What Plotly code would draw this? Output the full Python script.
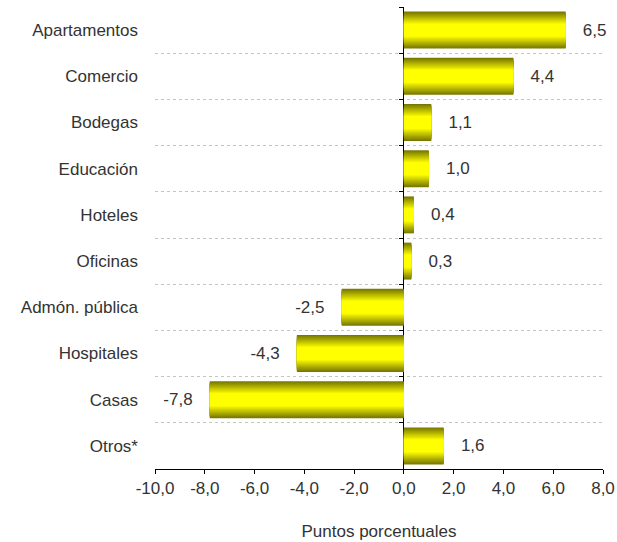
import plotly.graph_objects as go

categorias = ["Apartamentos", "Comercio", "Bodegas", "Educación", "Hoteles",
              "Oficinas", "Admón. pública", "Hospitales", "Casas", "Otros*"]
valores = [6.5, 4.4, 1.1, 1.0, 0.4, 0.3, -2.5, -4.3, -7.8, 1.6]
x_ticks = [-10, -8, -6, -4, -2, 0, 2, 4, 6, 8]
x_ticktext = ["-10,0", "-8,0", "-6,0", "-4,0", "-2,0", "0,0", "2,0", "4,0", "6,0", "8,0"]

pos = list(range(len(categorias)))
bordes = [p - 0.5 for p in pos] + [pos[-1] + 0.5]
pad = "\u00a0" * 3
etiquetas = [(pad + f"{v:.1f}" if v >= 0 else f"{v:.1f}" + pad).replace(".", ",")
             for v in valores]

FONT = "Liberation Sans, Arial, sans-serif"
TXT = "#333333"

fig = go.Figure()

# gradient look: overlay bars from olive edge to yellow core
capas = 14
for i in range(capas):
    t = i / (capas - 1)
    r = int(120 + (255 - 120) * t)
    fig.add_trace(go.Bar(
        x=valores, y=pos, orientation="h", width=0.8 - i * 0.04,
        marker=dict(color=f"rgb({r},{r},0)", line=dict(width=0)),
        text=etiquetas if i == 0 else None,
        textposition="outside" if i == 0 else "none",
        textfont=dict(family=FONT, size=17, color=TXT),
        cliponaxis=False, hoverinfo="skip", showlegend=False,
    ))

# helper traces so the extra axes are drawn
for ax in ["y2", "y3"]:
    fig.add_trace(go.Scatter(x=valores, y=pos, yaxis=ax, mode="markers",
                             marker=dict(opacity=0), hoverinfo="skip",
                             showlegend=False))

fig.update_layout(
    barmode="overlay",
    width=617, height=542,
    margin=dict(l=155, r=14, t=7, b=73),
    paper_bgcolor="white", plot_bgcolor="white",
    font=dict(family=FONT, size=17, color=TXT),
    xaxis=dict(
        range=[-10, 8], tickvals=x_ticks, ticktext=x_ticktext, automargin=False,
        showgrid=False, zeroline=True, zerolinecolor="black", zerolinewidth=1,
        showline=True, linecolor="black", linewidth=1,
        ticks="outside", ticklen=4, tickcolor="black",
        ticklabeloverflow="allow",
        tickfont=dict(size=17, color=TXT),
        title=dict(text="Puntos porcentuales", font=dict(size=17, color=TXT), standoff=27),
    ),
    yaxis=dict(
        range=[9.5, -0.5], tickvals=pos, ticktext=categorias, automargin=False,
        showgrid=False, zeroline=False, showline=False, ticks="",
        ticklabelstandoff=16, tickfont=dict(size=17, color=TXT),
    ),
    yaxis2=dict(
        overlaying="y", anchor="x", range=[9.5, -0.5], tickvals=bordes,
        automargin=False,
        showticklabels=False, ticks="", showgrid=True, gridcolor="#c4c4c4",
        griddash="dot", gridwidth=1, zeroline=False, showline=False,
    ),
    yaxis3=dict(
        overlaying="y", anchor="free", position=10 / 18, range=[9.5, -0.5],
        tickvals=bordes, showticklabels=False, ticks="outside", ticklen=5,
        automargin=False,
        tickcolor="black", showgrid=False, zeroline=False, showline=False,
    ),
)

fig.write_html("out.html", config={"displayModeBar": False},
               post_script="document.body.style.margin='0';")
